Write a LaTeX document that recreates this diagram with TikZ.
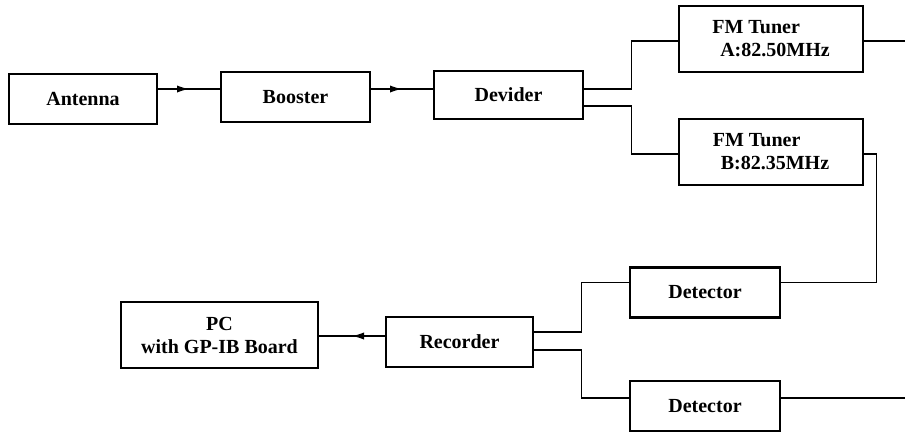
\documentclass[tikz,border=0pt]{standalone}
\usepackage{fontspec}
\setmainfont{Liberation Serif}
\usepackage{tikz}
\usetikzlibrary{arrows.meta,decorations.markings}

\begin{document}
\begin{tikzpicture}[x=0.5pt,y=-0.5pt,
  blk/.style={draw,line width=1.1pt,minimum height=25pt,inner sep=0pt,
    font=\fontsize{10}{11.5}\selectfont\bfseries},
  wire/.style={line width=0.6pt},
  midarrow/.style={wire,postaction={decorate},decoration={markings,
    mark=at position 0.5 with {\arrow{Latex[length=6pt,width=3.6pt]}}}}]
\useasboundingbox (0,0) rectangle (905,435);

\node[blk,minimum width=74pt] (ANT) at (83,99) {Antenna};
\node[blk,minimum width=74.5pt] (BST) at (295.5,97) {Booster};
\node[blk,minimum width=74.5pt,minimum height=24pt] (DIV) at (508.5,95) {Devider\hspace{11pt}};
\node[blk,minimum width=92pt,minimum height=33pt,align=left] (TA) at (771,39)
{FM Tuner\\\hspace{4pt}A:82.50MHz\hspace{4pt}};
\node[blk,minimum width=92pt,minimum height=33pt,align=left] (TB) at (771,152)
{FM Tuner\\\hspace{4pt}B:82.35MHz\hspace{4pt}};
\node[blk,minimum width=75pt] (DT1) at (705,292.5) {Detector\hspace{14pt}};
\node[blk,minimum width=75pt] (DT2) at (705,406) {Detector\hspace{14pt}};
\node[blk,minimum width=73.5pt] (REC) at (459.5,342) {Recorder};
\node[blk,minimum width=98.5pt,minimum height=33pt,align=center] (PC) at (219.5,335)
{PC\\with GP-IB Board};

\coordinate (outA) at (905,41);
\coordinate (outB) at (905,398);

\draw[midarrow] ([yshift=5pt]ANT.east) -- ([yshift=5pt]ANT.east -| BST.west);
\draw[midarrow] ([yshift=4pt]BST.east) -- ([yshift=4pt]BST.east -| DIV.west);
\draw[wire] ([yshift=3pt]DIV.east) -- ++(47,0) |- ([yshift=-1pt]TA.west);
\draw[wire] ([yshift=-5.5pt]DIV.east) -- ++(47,0) |- ([yshift=-1pt]TB.west);
\draw[wire] ([yshift=-1pt]TA.east) -- (outA);
\draw[wire] ([yshift=-1pt]TB.east) -- ++(12,0) |- ([yshift=5pt]DT1.east);
\draw[wire] ([yshift=4pt]DT2.east) -- (outB);
\draw[wire] ([yshift=5pt]REC.east) -- ++(47,0) |- ([yshift=5pt]DT1.west);
\draw[wire] ([yshift=-4pt]REC.east) -- ++(47,0) |- ([yshift=4pt]DT2.west);
\draw[midarrow] ([yshift=3pt]REC.west) -- ([yshift=3pt]REC.west -| PC.east);
\end{tikzpicture}
\end{document}
